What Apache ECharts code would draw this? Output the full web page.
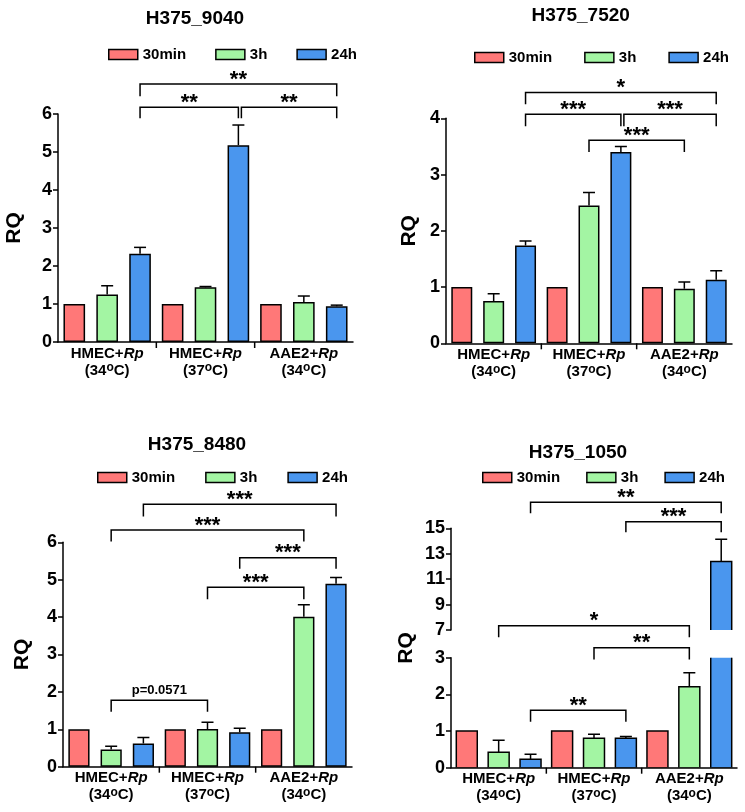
<!DOCTYPE html>
<html>
<head>
<meta charset="utf-8">
<script src="https://cdn.jsdelivr.net/npm/echarts@6.0.0/dist/echarts.min.js"></script>
<style>
html,body{margin:0;padding:0;background:#ffffff;}
#chart{width:745px;height:812px;}
</style>
</head>
<body>
<div id="chart"></div>
<script>
// ================= DATA =================
const timePoints = ['30min', '3h', '24h'];
const groupHost = ['HMEC+', 'HMEC+', 'AAE2+'];
const groupAgent = ['Rp', 'Rp', 'Rp'];
const groupTemp = ['34', '37', '34'];
const panelTitles = ['H375_9040', 'H375_7520', 'H375_8480', 'H375_1050'];
const yName = 'RQ';

// H375_9040
const a_30min = [1, 1, 1];
const a_3h = [1.25, 1.44, 1.05];
const a_3hErr = [1.48, 1.46, 1.21];
const a_24h = [2.32, 5.18, 0.94];
const a_24hErr = [2.49, 5.71, 0.97];
const a_yTicks = [0, 6, 1];
// brackets: [fromGroup, fromTime, toGroup, toTime, lineValue, endValue]
const a_brackets = [[0, 2, 2, 2, 6.79, 6.47], [0, 2, 1, 2, 6.18, 5.89], [1, 2, 2, 2, 6.18, 5.89]];
const a_sig = ['**', '**', '**'];

// H375_7520
const b_30min = [1, 1, 1];
const b_3h = [0.75, 2.45, 0.97];
const b_3hErr = [0.88, 2.68, 1.09];
const b_24h = [1.74, 3.40, 1.13];
const b_24hErr = [1.82, 3.50, 1.29];
const b_yTicks = [0, 4, 1];
const b_brackets = [[0, 2, 2, 2, 4.46, 4.25], [0, 2, 1, 2, 4.07, 3.86], [1, 2, 2, 2, 4.07, 3.86], [1, 1, 2, 1, 3.61, 3.40]];
const b_sig = ['*', '***', '***', '***'];

// H375_8480
const c_30min = [1, 1, 1];
const c_3h = [0.46, 1.01, 4.01];
const c_3hErr = [0.55, 1.19, 4.33];
const c_24h = [0.62, 0.92, 4.89];
const c_24hErr = [0.78, 1.03, 5.06];
const c_yTicks = [0, 6, 1];
const c_brackets = [[0, 2, 2, 2, 7.02, 6.69], [0, 1, 2, 1, 6.33, 6.02], [1, 2, 2, 2, 5.59, 5.29], [1, 1, 2, 1, 4.80, 4.48], [0, 1, 1, 1, 1.78, 1.47]];
const c_sig = ['***', '***', '***', '***', 'p=0.0571'];

// H375_1050 (broken y axis: 0-3 and 7-15)
const d_30min = [1, 1, 1];
const d_3h = [0.42, 0.80, 2.21];
const d_3hErr = [0.75, 0.91, 2.59];
const d_24h = [0.23, 0.80, 12.38];
const d_24hErr = [0.37, 0.85, 14.13];
const d_yTicksLow = [0, 3, 1];
const d_yTicksHigh = [7, 15, 2];
const d_bracketsHigh = [[0, 2, 2, 2, 17.05, 16.18], [1, 2, 2, 2, 15.52, 14.69], [0, 1, 2, 1, 7.34, 6.42]];
const d_sigHigh = ['**', '***', '*'];
const d_bracketsLow = [[1, 1, 2, 1, 3.27, 2.95], [0, 2, 1, 2, 1.57, 1.25]];
const d_sigLow = ['**', '**'];

// ================= STYLE / LAYOUT =================
const FONT = '"Liberation Sans", Arial, Helvetica, sans-serif';
const COLORS = ['#FF7878', '#A3F5A3', '#4A96EE'];
const BAR_W = 0.22, BAR_GAP = 0.52, SPACING = BAR_W * (1 + BAR_GAP);
const LW = 1.5;
const categories = groupHost.map((h, i) => h + groupAgent[i] + ' (' + groupTemp[i] + '°C)');

const option = {
  animation: false, backgroundColor: '#ffffff',
  title: [], legend: [], grid: [], xAxis: [], yAxis: [], series: []
};

function measure(text, font) {
  const c = document.createElement('canvas').getContext('2d');
  c.font = font; return c.measureText(text).width;
}
function addTitle(text, cx, cy) {
  const w = measure(text, 'bold 19px ' + FONT);
  option.title.push({ text, left: cx - w / 2, top: cy - 9, padding: 0,
    textStyle: { fontSize: 19, fontWeight: 'bold', color: '#000', fontFamily: FONT } });
}
function addLegend(left, cy, gap) {
  option.legend.push({ data: timePoints, left, top: cy - 7, padding: 0, itemWidth: 29, itemHeight: 10,
    itemGap: gap, icon: 'rect', selectedMode: false,
    itemStyle: { borderColor: '#000', borderWidth: LW },
    textStyle: { fontSize: 15, fontWeight: 'bold', color: '#000', fontFamily: FONT } });
}
const labelRich = {
  n: { fontSize: 15, fontWeight: 'bold', fontFamily: FONT, color: '#000', lineHeight: 17 },
  i: { fontSize: 15, fontWeight: 'bold', fontStyle: 'italic', fontFamily: FONT, color: '#000', lineHeight: 17 },
  s: { fontSize: 12, fontWeight: 'bold', fontFamily: FONT, color: '#000', lineHeight: 6, verticalAlign: 'top' }
};
function addGrid(rect, yTicks, o) {
  const gi = option.grid.length;
  option.grid.push({ left: rect[0], top: rect[1], width: rect[2], height: rect[3], containLabel: false, outerBoundsMode: 'none' });
  option.xAxis.push({ gridIndex: gi, type: 'category', data: categories, show: !!o.showX,
    axisLine: { show: true, lineStyle: { color: '#000', width: LW } }, axisTick: { show: false },
    splitLine: { show: false },
    axisLabel: { interval: 0, margin: 3, color: '#000',
      formatter: (v, idx) => '{n|' + groupHost[idx] + '}{i|' + groupAgent[idx] + '}\n{n|(' + groupTemp[idx] + '}{s|o}{n|C)}',
      rich: labelRich } });
  option.yAxis.push({ gridIndex: gi, type: 'value', min: yTicks[0], max: yTicks[1], interval: yTicks[2],
    splitLine: { show: false },
    axisLine: { show: !o.nameOnly, lineStyle: { color: '#000', width: LW } },
    axisTick: { show: !o.nameOnly, length: 5, lineStyle: { color: '#000', width: LW } },
    axisLabel: { show: !o.nameOnly, color: '#000', fontSize: 18, fontWeight: 'bold', fontFamily: FONT, margin: 6 },
    name: o.name || '', nameLocation: 'middle', nameGap: o.nameGap || 30, nameMoveOverlap: false,
    nameTextStyle: { fontSize: 21, fontWeight: 'bold', color: '#000', fontFamily: FONT } });
  return gi;
}
function addBars(gi, vals) {
  vals.forEach((v, k) => {
    option.series.push({ type: 'bar', name: timePoints[k], xAxisIndex: gi, yAxisIndex: gi, data: v,
      barWidth: (BAR_W * 100) + '%', barGap: (BAR_GAP * 100) + '%', silent: true, clip: true,
      itemStyle: { color: COLORS[k], borderColor: '#000', borderWidth: LW }, emphasis: { disabled: true } });
  });
}
// bars drawn with a real clip path (for the broken axis), so cut edges get no border
function addClippedBars(gi, vals) {
  const data = [];
  vals.forEach((v, k) => v.forEach((val, g) => data.push([g, k, val])));
  option.series.push({ type: 'custom', xAxisIndex: gi, yAxisIndex: gi, silent: true, clip: true, data,
    encode: { x: 0, y: 2 },
    renderItem(params, api) {
      const g = api.value(0), k = api.value(1);
      const band = api.size([1, 0])[0];
      const top = api.coord([g, api.value(2)]), base = api.coord([g, 0]);
      const w = BAR_W * band;
      const cx = top[0] + (k - 1) * SPACING * band;
      return { type: 'rect', shape: { x: cx - w / 2, y: top[1], width: w, height: base[1] - top[1] },
        style: { fill: COLORS[k], stroke: '#000', lineWidth: LW } };
    } });
}
function addErrors(gi, vals, errs) {
  const data = [];
  errs.forEach((e, kk) => { const k = kk + 1; e.forEach((ev, g) => data.push([g, k, vals[k][g], ev])); });
  option.series.push({ type: 'custom', xAxisIndex: gi, yAxisIndex: gi, silent: true, clip: true, data,
    encode: { x: 0, y: 3 },
    renderItem(params, api) {
      const g = api.value(0), k = api.value(1);
      const band = api.size([1, 0])[0];
      const p0 = api.coord([g, api.value(2)]), p1 = api.coord([g, api.value(3)]);
      const x = p0[0] + (k - 1) * SPACING * band;
      const cap = 6;
      return { type: 'group', children: [
        { type: 'line', shape: { x1: x, y1: p0[1], x2: x, y2: p1[1] }, style: { stroke: '#000', lineWidth: LW } },
        { type: 'line', shape: { x1: x - cap, y1: p1[1], x2: x + cap, y2: p1[1] }, style: { stroke: '#000', lineWidth: LW } }
      ] };
    } });
}
function addSeparators(gi, yMin) {
  option.series.push({ type: 'custom', xAxisIndex: gi, yAxisIndex: gi, silent: true, data: [[0, yMin], [1, yMin]],
    renderItem(params, api) {
      const band = api.size([1, 0])[0];
      const p = api.coord([api.value(0), api.value(1)]);
      const x = p[0] + band / 2;
      return { type: 'line', shape: { x1: x, y1: p[1], x2: x, y2: p[1] + 6 }, style: { stroke: '#000', lineWidth: LW } };
    } });
}
function addBrackets(gi, brackets, sig) {
  const nudge = brackets.map((b, i) => brackets.some((o, j) => j !== i && o[2] === b[0] && o[3] === b[1] && o[4] === b[4]) ? 3 : 0);
  option.series.push({ type: 'custom', xAxisIndex: gi, yAxisIndex: gi, silent: true, clip: false, data: brackets,
    encode: { x: 0, y: 4 },
    renderItem(params, api) {
      const i = params.dataIndex, b = brackets[i];
      const band = api.size([1, 0])[0];
      const xOf = (g, k) => api.coord([g, b[4]])[0] + (k - 1) * SPACING * band;
      const x1 = xOf(b[0], b[1]) + nudge[i], x2 = xOf(b[2], b[3]);
      const yL = api.coord([b[0], b[4]])[1], yE = api.coord([b[0], b[5]])[1];
      const star = sig[i].charAt(0) === '*';
      return { type: 'group', children: [
        { type: 'polyline', shape: { points: [[x1, yE], [x1, yL], [x2, yL], [x2, yE]] }, style: { stroke: '#000', lineWidth: LW, fill: 'none' } },
        { type: 'text', x: (x1 + x2) / 2, y: yL - (star ? 4.5 : 10),
          style: { text: sig[i], fill: '#000', fontSize: star ? 22 : 13, fontWeight: 'bold', fontFamily: FONT, align: 'center', verticalAlign: 'middle' } }
      ] };
    } });
}
function buildPanel(L, yTicks, s30, s3, s3e, s24, s24e, br, sig, title) {
  addTitle(title, L.title[0], L.title[1]);
  addLegend(L.legend[0], L.legend[1], L.legend[2]);
  const gi = addGrid(L.grid, yTicks, { showX: true, name: yName, nameGap: L.nameGap });
  addBars(gi, [s30, s3, s24]);
  addErrors(gi, [s30, s3, s24], [s3e, s24e]);
  addSeparators(gi, yTicks[0]);
  addBrackets(gi, br, sig);
}

buildPanel({ grid: [58, 114, 295, 228], title: [195, 18], legend: [108, 54, 29], nameGap: 33 },
  a_yTicks, a_30min, a_3h, a_3hErr, a_24h, a_24hErr, a_brackets, a_sig, panelTitles[0]);
buildPanel({ grid: [446, 118.3, 286, 225], title: [580.7, 15], legend: [474, 57, 32], nameGap: 26 },
  b_yTicks, b_30min, b_3h, b_3hErr, b_24h, b_24hErr, b_brackets, b_sig, panelTitles[1]);
buildPanel({ grid: [63, 542.3, 289, 224.4], title: [197, 444], legend: [97, 477, 30], nameGap: 30 },
  c_yTicks, c_30min, c_3h, c_3hErr, c_24h, c_24hErr, c_brackets, c_sig, panelTitles[2]);

// Panel 4 with broken axis: lower (0-3) and upper (7-15) grids
addTitle(panelTitles[3], 578, 452);
addLegend(482, 477, 26);
const gLow = addGrid([451, 657.7, 286, 110], d_yTicksLow, { showX: true });
addClippedBars(gLow, [d_30min, d_3h, d_24h]);
addErrors(gLow, [d_30min, d_3h, d_24h], [d_3hErr, d_24hErr]);
addSeparators(gLow, d_yTicksLow[0]);
addBrackets(gLow, d_bracketsLow, d_sigLow);
const gHigh = addGrid([451, 528.3, 286, 101.7], d_yTicksHigh, { showX: false });
addClippedBars(gHigh, [d_30min, d_3h, d_24h]);
addErrors(gHigh, [d_30min, d_3h, d_24h], [d_3hErr, d_24hErr]);
addBrackets(gHigh, d_bracketsHigh, d_sigHigh);
addGrid([451, 528.3, 286, 239.4], [0, 1, 1], { showX: false, nameOnly: true, name: yName, nameGap: 34 });

const chart = echarts.init(document.getElementById('chart'), null, { renderer: 'canvas' });
chart.setOption(option);
</script>
</body>
</html>
